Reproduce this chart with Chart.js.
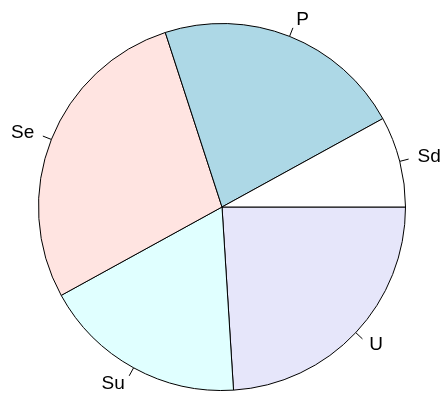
<!DOCTYPE html>
<html>
<head>
<meta charset="utf-8">
<script src="https://cdn.jsdelivr.net/npm/chart.js@4/dist/chart.umd.min.js"></script>
<style>
html,body{margin:0;padding:0;background:#fff;}
#wrap{width:445px;height:394px;}
</style>
</head>
<body>
<div id="wrap"><canvas id="c" width="445" height="394"></canvas></div>
<script>
// R pie order is counterclockwise from east: Sd, P, Se, Su, U
const categories = ["Sd", "P", "Se", "Su", "U"];
const values = [8, 22, 28, 18, 24];
const colors = ["#FFFFFF", "#ADD8E6", "#FFE4E1", "#E0FFFF", "#E6E6FA"];

// Chart.js draws clockwise, so reverse to emulate counterclockwise order
const labelsCW = categories.slice().reverse();
const valuesCW = values.slice().reverse();
const colorsCW = colors.slice().reverse();

const outerLabels = {
  id: 'outerLabels',
  afterDatasetsDraw(chart) {
    const ctx = chart.ctx;
    const meta = chart.getDatasetMeta(0);
    ctx.save();
    ctx.strokeStyle = '#000';
    ctx.lineWidth = 1;
    ctx.fillStyle = '#000';
    ctx.font = '19px "Liberation Sans", Arial, sans-serif';
    ctx.textBaseline = 'middle';
    meta.data.forEach((arc, i) => {
      const p = arc.getProps(['x','y','startAngle','endAngle','outerRadius'], true);
      const mid = (p.startAngle + p.endAngle) / 2;
      const c = Math.cos(mid), s = Math.sin(mid);
      const r = p.outerRadius;
      ctx.beginPath();
      ctx.moveTo(p.x + c * r, p.y + s * r);
      ctx.lineTo(p.x + c * r * 1.05, p.y + s * r * 1.05);
      ctx.stroke();
      ctx.textAlign = c > 0 ? 'left' : 'right';
      ctx.fillText(chart.data.labels[i], p.x + c * r * 1.1, p.y + s * r * 1.1);
    });
    ctx.restore();
  }
};

new Chart(document.getElementById('c'), {
  type: 'pie',
  data: {
    labels: labelsCW,
    datasets: [{
      data: valuesCW,
      backgroundColor: colorsCW,
      borderColor: '#000',
      borderWidth: 1,
      borderAlign: 'center'
    }]
  },
  options: {
    responsive: false,
    animation: false,
    rotation: 90,
    layout: { padding: { top: 23, bottom: 3, left: 38, right: 39 } },
    plugins: {
      legend: { display: false },
      tooltip: { enabled: false }
    }
  },
  plugins: [outerLabels]
});
</script>
</body>
</html>
